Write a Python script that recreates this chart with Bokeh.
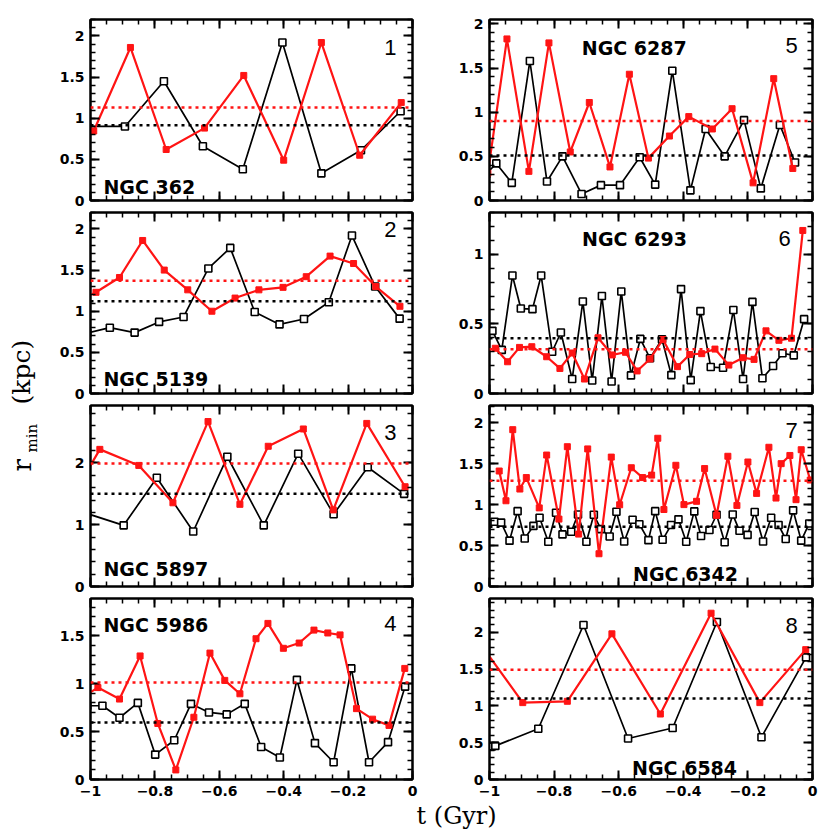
import math
from bokeh.plotting import figure
from bokeh.models import (LinearAxis, FixedTicker, Span, Label, Range1d,
                          CustomJSTickFormatter)
from bokeh.layouts import row, column
from bokeh.embed import file_html
from bokeh.resources import INLINE

# ---------------- data (t in Gyr, r_min in kpc) ----------------
names = ["NGC 362", "NGC 5139", "NGC 5897", "NGC 5986",
         "NGC 6287", "NGC 6293", "NGC 6342", "NGC 6584"]

# panel 1 : NGC 362
t_black_1 = [-1.01, -0.893, -0.772, -0.651, -0.527, -0.404, -0.283, -0.160, -0.037]
r_black_1 = [0.90, 0.90, 1.45, 0.66, 0.38, 1.92, 0.33, 0.61, 1.085]
t_red_1 = [-1.01, -0.99, -0.876, -0.765, -0.646, -0.524, -0.400, -0.283, -0.164, -0.035]
r_red_1 = [0.93, 0.845, 1.86, 0.62, 0.88, 1.52, 0.49, 1.92, 0.55, 1.19]
mean_black_1, mean_red_1 = 0.915, 1.13

# panel 2 : NGC 5139
t_black_2 = [-1.01, -0.940, -0.863, -0.787, -0.711, -0.634, -0.566, -0.490, -0.413,
             -0.337, -0.260, -0.188, -0.116, -0.040]
r_black_2 = [0.735, 0.80, 0.74, 0.87, 0.93, 1.52, 1.77, 0.99, 0.84, 0.905, 1.11, 1.92, 1.30, 0.91]
t_red_2 = [-1.01, -0.983, -0.910, -0.838, -0.771, -0.698, -0.623, -0.551, -0.477, -0.402,
           -0.330, -0.256, -0.183, -0.114, -0.039]
r_red_2 = [1.18, 1.23, 1.41, 1.86, 1.50, 1.26, 1.00, 1.16, 1.26, 1.29, 1.42, 1.67, 1.58, 1.30, 1.06]
mean_black_2, mean_red_2 = 1.12, 1.37

# panel 3 : NGC 5897
t_black_3 = [-1.01, -0.897, -0.794, -0.681, -0.575, -0.462, -0.355, -0.245, -0.139, -0.026]
r_black_3 = [1.18, 0.99, 1.76, 0.89, 2.10, 0.99, 2.15, 1.17, 1.93, 1.50]
t_red_3 = [-1.01, -0.971, -0.850, -0.744, -0.635, -0.536, -0.448, -0.339, -0.246, -0.142, -0.023]
r_red_3 = [1.87, 2.22, 1.96, 1.355, 2.67, 1.33, 2.27, 2.55, 1.24, 2.64, 1.615]
mean_black_3, mean_red_3 = 1.50, 1.99

# panel 4 : NGC 5986
t_black_4 = [-1.01, -0.963, -0.910, -0.853, -0.799, -0.740, -0.688, -0.632, -0.577, -0.521,
             -0.470, -0.412, -0.359, -0.303, -0.245, -0.190, -0.135, -0.076, -0.023]
r_black_4 = [0.77, 0.77, 0.645, 0.80, 0.26, 0.41, 0.79, 0.70, 0.68, 0.79,
             0.34, 0.23, 1.04, 0.38, 0.18, 1.16, 0.18, 0.39, 0.97]
t_red_4 = [-1.01, -0.977, -0.910, -0.846, -0.791, -0.735, -0.679, -0.629, -0.583, -0.536,
           -0.486, -0.449, -0.401, -0.352, -0.306, -0.263, -0.225, -0.174, -0.124, -0.073, -0.024]
r_red_4 = [0.89, 0.96, 0.84, 1.29, 0.585, 0.10, 0.65, 1.32, 1.035, 0.895,
           1.47, 1.63, 1.37, 1.425, 1.56, 1.53, 1.51, 0.74, 0.63, 0.565, 1.16]
mean_black_4, mean_red_4 = 0.596, 1.014

# panel 5 : NGC 6287
t_black_5 = [-1.01, -0.979, -0.931, -0.875, -0.822, -0.774, -0.715, -0.655, -0.596, -0.535,
             -0.487, -0.434, -0.378, -0.331, -0.272, -0.212, -0.160, -0.101, -0.054]
r_black_5 = [0.30, 0.42, 0.20, 1.58, 0.215, 0.50, 0.074, 0.174, 0.174, 0.49,
             0.18, 1.47, 0.115, 0.81, 0.50, 0.91, 0.137, 0.855, 0.43]
t_red_5 = [-1.005, -0.946, -0.878, -0.816, -0.750, -0.691, -0.627, -0.567, -0.508, -0.443,
           -0.383, -0.310, -0.249, -0.184, -0.120, -0.061]
r_red_5 = [0.31, 1.83, 0.33, 1.785, 0.55, 1.11, 0.38, 1.43, 0.48, 0.73,
           0.95, 0.81, 1.04, 0.20, 1.38, 0.363]
mean_black_5, mean_red_5 = 0.51, 0.90

# panel 6 : NGC 6293
t_black_6 = [-0.991, -0.962, -0.929, -0.903, -0.867, -0.840, -0.806, -0.779, -0.744, -0.711,
             -0.682, -0.652, -0.622, -0.592, -0.562, -0.533, -0.503, -0.466, -0.437, -0.407,
             -0.377, -0.347, -0.315, -0.277, -0.245, -0.215, -0.186, -0.155, -0.122, -0.093,
             -0.058, -0.026]
r_black_6 = [0.45, 0.313, 0.847, 0.61, 0.606, 0.847, 0.30, 0.438, 0.104, 0.661,
             0.093, 0.70, 0.086, 0.733, 0.13, 0.392, 0.253, 0.39, 0.132, 0.75,
             0.096, 0.592, 0.19, 0.185, 0.60, 0.104, 0.658, 0.11, 0.197, 0.289,
             0.274, 0.534]
t_red_6 = [-0.982, -0.944, -0.907, -0.869, -0.823, -0.782, -0.744, -0.706, -0.664, -0.620,
           -0.579, -0.543, -0.503, -0.463, -0.418, -0.380, -0.343, -0.302, -0.259, -0.215,
           -0.181, -0.144, -0.104, -0.065, -0.030]
r_red_6 = [0.325, 0.228, 0.331, 0.336, 0.264, 0.18, 0.291, 0.104, 0.40, 0.277,
           0.296, 0.162, 0.248, 0.388, 0.193, 0.28, 0.286, 0.319, 0.204, 0.257,
           0.245, 0.45, 0.382, 0.397, 1.171]
mean_black_6, mean_red_6 = 0.397, 0.317

# panel 7 : NGC 6342
t_black_7 = [-1.01, -0.9845, -0.964, -0.938, -0.913, -0.891, -0.864, -0.845, -0.818, -0.794,
             -0.774, -0.747, -0.726, -0.700, -0.677, -0.655, -0.628, -0.607, -0.583, -0.557,
             -0.536, -0.508, -0.487, -0.464, -0.438, -0.415, -0.391, -0.366, -0.345, -0.319,
             -0.297, -0.272, -0.247, -0.226, -0.201, -0.179, -0.153, -0.128, -0.105, -0.083,
             -0.060, -0.035, -0.010]
r_black_7 = [0.68, 0.79, 0.78, 0.56, 0.92, 0.586, 0.74, 0.84, 0.546, 0.90,
             0.636, 0.668, 0.88, 0.546, 0.876, 0.70, 0.61, 0.913, 0.55, 0.815,
             0.76, 0.566, 0.92, 0.57, 0.75, 0.82, 0.546, 0.917, 0.616, 0.69,
             0.876, 0.54, 0.88, 0.68, 0.63, 0.91, 0.55, 0.84, 0.75, 0.58,
             0.93, 0.56, 0.77]
t_red_7 = [-0.970, -0.949, -0.928, -0.906, -0.886, -0.846, -0.823, -0.785, -0.759, -0.724,
           -0.696, -0.661, -0.623, -0.597, -0.561, -0.526, -0.498, -0.479, -0.460, -0.423,
           -0.398, -0.359, -0.334, -0.297, -0.262, -0.234, -0.200, -0.173, -0.135, -0.113,
           -0.097, -0.070, -0.051, -0.035, -0.007]
r_red_7 = [1.41, 1.047, 1.915, 1.19, 1.33, 0.96, 1.605, 0.823, 1.707, 0.64,
           1.68, 0.40, 1.58, 0.998, 1.45, 1.33, 1.36, 1.81, 0.94, 1.48,
           1.00, 1.04, 1.44, 0.868, 1.59, 0.99, 1.52, 1.137, 1.70, 1.08,
           1.50, 1.60, 1.06, 1.67, 1.30]
mean_black_7, mean_red_7 = 0.73, 1.29

# panel 8 : NGC 6584
t_black_8 = [-0.993, -0.982, -0.849, -0.709, -0.571, -0.433, -0.296, -0.158, -0.020]
r_black_8 = [0.45, 0.457, 0.69, 2.10, 0.557, 0.70, 2.14, 0.575, 1.66]
t_red_8 = [-1.01, -0.897, -0.759, -0.621, -0.471, -0.314, -0.163, -0.021]
r_red_8 = [1.73, 1.045, 1.063, 1.98, 0.89, 2.26, 1.045, 1.765]
mean_black_8, mean_red_8 = 1.10, 1.49

# axis ranges / ticks
y_max = [2.2, 2.2, 2.93, 1.89, 2.05, 1.3, 2.21, 2.46]
y_major_step = [0.5, 0.5, 1.0, 0.5, 0.5, 0.5, 0.5, 0.5]
y_minor_step = [0.1, 0.1, 0.2, 0.1, 0.1, 0.1, 0.1, 0.1]
x_major_ticks = [-1.0, -0.8, -0.6, -0.4, -0.2, 0.0]
x_minor_ticks = [round(-1.0 + 0.05 * k, 2) for k in range(21)]

panels = [
    (t_black_1, r_black_1, t_red_1, r_red_1, mean_black_1, mean_red_1),
    (t_black_2, r_black_2, t_red_2, r_red_2, mean_black_2, mean_red_2),
    (t_black_3, r_black_3, t_red_3, r_red_3, mean_black_3, mean_red_3),
    (t_black_4, r_black_4, t_red_4, r_red_4, mean_black_4, mean_red_4),
    (t_black_5, r_black_5, t_red_5, r_red_5, mean_black_5, mean_red_5),
    (t_black_6, r_black_6, t_red_6, r_red_6, mean_black_6, mean_red_6),
    (t_black_7, r_black_7, t_red_7, r_red_7, mean_black_7, mean_red_7),
    (t_black_8, r_black_8, t_red_8, r_red_8, mean_black_8, mean_red_8),
]

# ---------------- styling / layout ----------------
RED = "#ff1414"
FRAME_H = 181
TOP0, GAP_B, GAP_T, BOT3 = 19, 8, 4, 23
LB_L, RB_L, FW_L = 50, 12, 322
LB_R, RB_R, FW_R = 65, 8, 323
YLAB_W = 40
XLAB_H = 27

# (frac_x, frac_y, align) for the cluster names, in frame fractions
name_pos = [(0.04, 0.072, "left"), (0.04, 0.081, "left"), (0.04, 0.098, "left"),
            (0.04, 0.853, "left"), (0.448, 0.845, "center"), (0.449, 0.855, "center"),
            (0.607, 0.070, "center"), (0.604, 0.062, "center")]
num_pos = [(0.95, 0.845), (0.95, 0.904), (0.95, 0.849), (0.95, 0.864),
           (0.954, 0.856), (0.933, 0.855), (0.954, 0.86), (0.954, 0.852)]

NUM_JS = ("const v = Math.round(tick*100)/100;"
          "return v < 0 ? '\\u2212' + String(-v) : String(v);")


def style_axis(ax, ticks, minor, show):
    ax.ticker = FixedTicker(ticks=ticks, minor_ticks=minor)
    ax.axis_line_color = "black"
    ax.axis_line_width = 2
    ax.major_tick_line_color = "black"
    ax.minor_tick_line_color = "black"
    ax.major_tick_in = 9
    ax.major_tick_out = 0
    ax.minor_tick_in = 5
    ax.minor_tick_out = 0
    ax.major_tick_line_width = 2
    ax.minor_tick_line_width = 1.5
    if show:
        ax.formatter = CustomJSTickFormatter(code=NUM_JS)
        ax.major_label_text_font = "DejaVu Sans"
        ax.major_label_text_font_style = "bold"
        ax.major_label_text_font_size = "14px"
        ax.major_label_text_color = "black"
        ax.major_label_standoff = 6
    else:
        ax.formatter = CustomJSTickFormatter(code="return '';")
        ax.major_label_standoff = 0
        ax.major_label_text_font_size = "1px"


def make_panel(i, left_col, row_idx):
    tb, rb, tr, rr, mb, mr = panels[i]
    ymax = y_max[i]
    bottom_row = row_idx == 3
    lb, rbd, fw = (LB_L, RB_L, FW_L) if left_col else (LB_R, RB_R, FW_R)
    tb_border = TOP0 if row_idx == 0 else GAP_T
    bb_border = BOT3 if bottom_row else GAP_B
    p = figure(width=lb + fw + rbd, height=tb_border + FRAME_H + bb_border,
               x_range=Range1d(-1, 0), y_range=Range1d(0, ymax), title=None,
               output_backend="svg", toolbar_location=None,
               min_border_left=lb, min_border_right=rbd,
               min_border_top=tb_border, min_border_bottom=bb_border,
               background_fill_color="white", border_fill_color="white")
    p.xgrid.visible = False
    p.ygrid.visible = False
    p.outline_line_color = "black"
    p.outline_line_width = 2
    p.outline_line_alpha = 1

    n_major = int(math.floor(ymax / y_major_step[i] + 1e-9))
    yt = [round(k * y_major_step[i], 2) for k in range(n_major + 1)]
    n_minor = int(math.floor(ymax / y_minor_step[i] + 1e-9))
    ym = [round(k * y_minor_step[i], 2) for k in range(n_minor + 1)]

    style_axis(p.xaxis[0], x_major_ticks, x_minor_ticks, bottom_row)
    style_axis(p.yaxis[0], yt, ym, True)
    top = LinearAxis()
    style_axis(top, x_major_ticks, x_minor_ticks, False)
    p.add_layout(top, "above")
    right = LinearAxis()
    style_axis(right, yt, ym, False)
    p.add_layout(right, "right")

    p.add_layout(Span(location=mr, dimension="width", line_color=RED,
                      line_dash="3 4", line_width=2.5))
    p.add_layout(Span(location=mb, dimension="width", line_color="black",
                      line_dash="3 4", line_width=2.5))

    p.line(tb, rb, line_color="black", line_width=1.7)
    p.scatter(tb, rb, marker="square", size=7, fill_color="white",
              line_color="black", line_width=1.6)
    p.line(tr, rr, line_color=RED, line_width=2.2)
    p.scatter(tr, rr, marker="square", size=6, fill_color=RED,
              line_color=RED, line_width=1)

    fx, fy, al = name_pos[i]
    p.add_layout(Label(x=-1 + fx, y=fy * ymax, text=names[i], text_align=al,
                       text_baseline="alphabetic", text_font="DejaVu Sans",
                       text_font_style="bold", text_font_size="19px",
                       text_color="black"))
    nx, ny = num_pos[i]
    p.add_layout(Label(x=-1 + nx, y=ny * ymax, text=str(i + 1), text_align="right",
                       text_baseline="alphabetic", text_font="Liberation Sans",
                       text_font_size="22px", text_color="black"))
    return p


left_figs = [make_panel(i, True, i) for i in range(4)]
right_figs = [make_panel(i + 4, False, i) for i in range(4)]

COL_H = TOP0 + 4 * FRAME_H + 3 * (GAP_T + GAP_B) + BOT3


def ly(page_y):
    return COL_H - page_y


# y-axis title column
ylab = figure(width=YLAB_W, height=COL_H, x_range=Range1d(0, YLAB_W),
              y_range=Range1d(0, COL_H), x_axis_type=None, y_axis_type=None,
              title=None, output_backend="svg", toolbar_location=None, min_border=0)
ylab.outline_line_color = None
ylab.add_layout(Label(x=21, y=ly(471), text="r", angle=math.pi / 2,
                      text_align="left", text_baseline="middle", text_color="black",
                      text_font="DejaVu Serif", text_font_size="26px"))
ylab.add_layout(Label(x=31, y=ly(452), text="min", angle=math.pi / 2,
                      text_align="left", text_baseline="middle", text_color="black",
                      text_font="DejaVu Serif", text_font_size="15px"))
ylab.add_layout(Label(x=21, y=ly(404), text="(kpc)", angle=math.pi / 2,
                      text_align="left", text_baseline="middle", text_color="black",
                      text_font="DejaVu Serif", text_font_size="25px"))

TOTAL_W = YLAB_W + (LB_L + FW_L + RB_L) + (LB_R + FW_R + RB_R)
xlab = figure(width=TOTAL_W, height=XLAB_H, x_range=Range1d(0, TOTAL_W),
              y_range=Range1d(0, XLAB_H), x_axis_type=None, y_axis_type=None,
              title=None, output_backend="svg", toolbar_location=None, min_border=0)
xlab.outline_line_color = None
xlab.add_layout(Label(x=416, y=14, text="t (Gyr)", text_align="left",
                      text_baseline="middle", text_font="DejaVu Serif",
                      text_font_size="24px", text_color="black"))

layout = column(row(ylab, column(*left_figs), column(*right_figs)), xlab)

open("out.html", "w").write(file_html(layout, INLINE))
